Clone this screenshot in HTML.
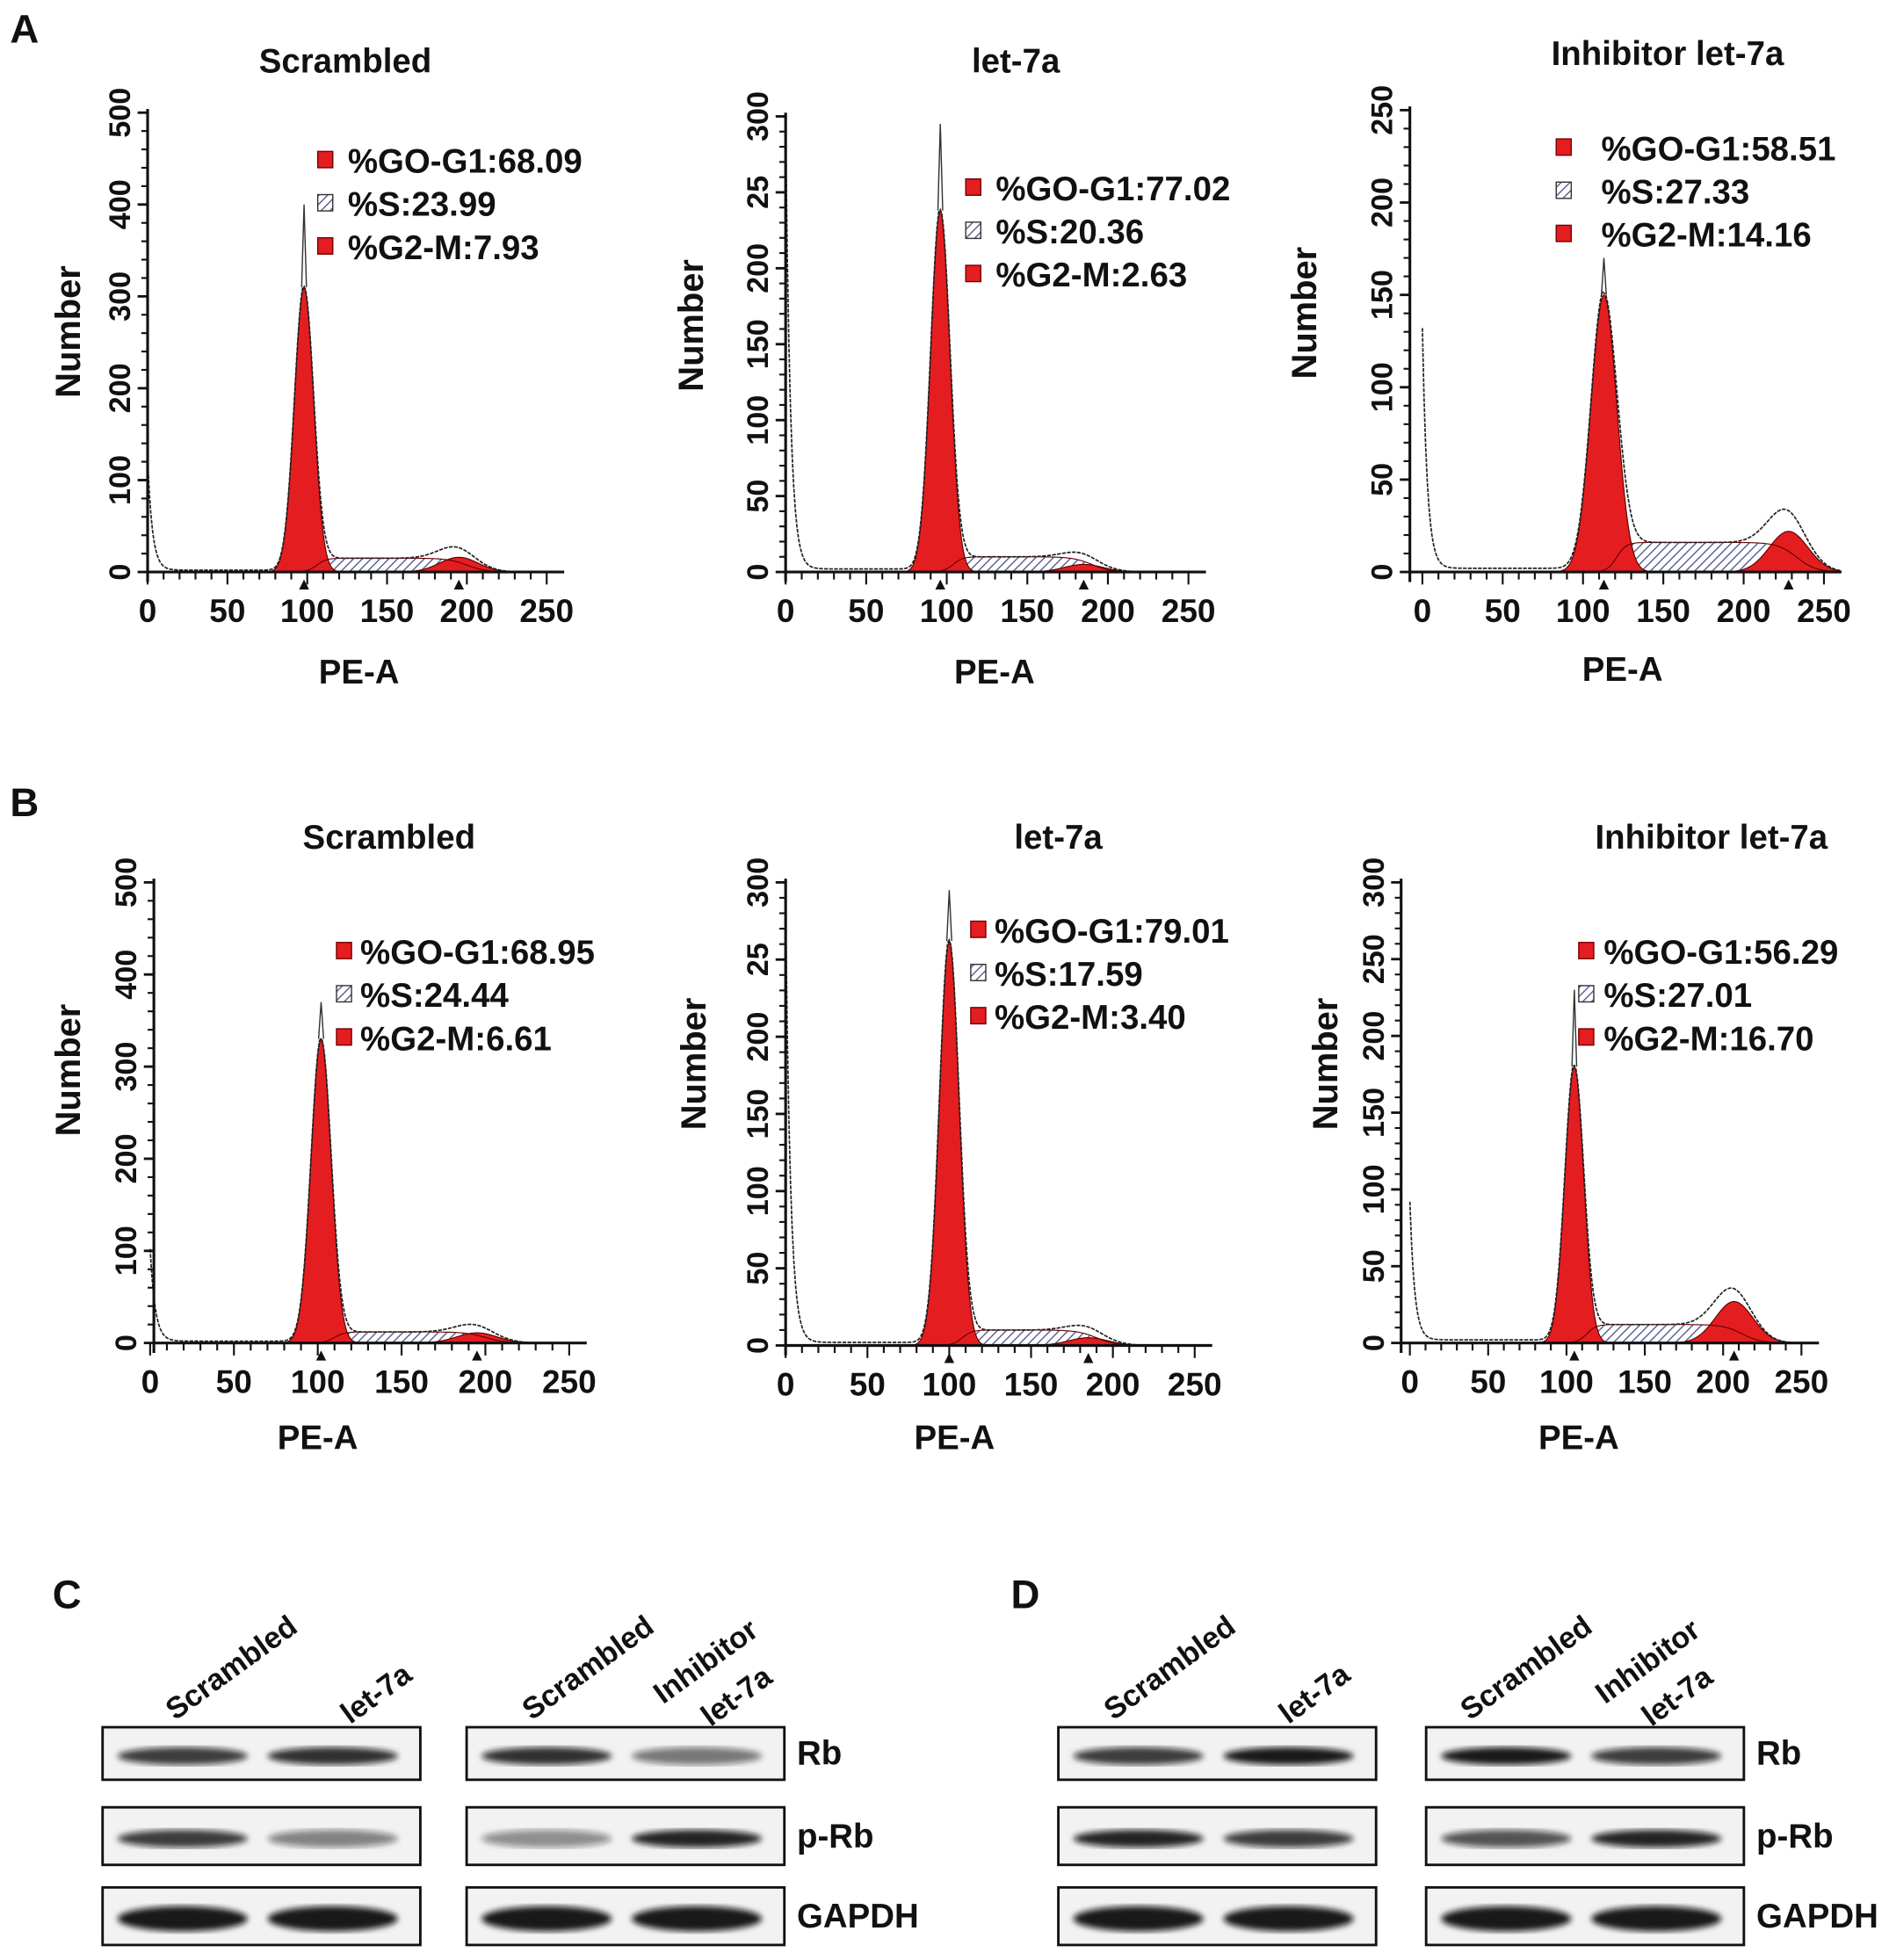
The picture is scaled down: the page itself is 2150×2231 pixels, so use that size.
<!DOCTYPE html>
<html><head><meta charset="utf-8"><style>
html,body{margin:0;padding:0;background:#fff;}
svg{display:block;}
text{font-family:"Liberation Sans",Arial,sans-serif;font-weight:bold;fill:#111;}
</style></head><body>
<svg id="fig" width="2150" height="2231" viewBox="0 0 1510 1566" preserveAspectRatio="none" xmlns="http://www.w3.org/2000/svg">
<defs>
<pattern id="hatch" width="5" height="5" patternUnits="userSpaceOnUse" patternTransform="rotate(45)">
<rect width="5" height="5" fill="#fff"/><line x1="0" y1="0" x2="0" y2="5" stroke="#5a5f90" stroke-width="2"/>
</pattern>
<filter id="blur"><feGaussianBlur stdDeviation="2.5"/></filter>
</defs>
<g id="charts"></g>
<g id="blots"></g>
</svg>
<script>
// ---- chart data ----
const panelTitles = ["Scrambled","let-7a","Inhibitor let-7a","Scrambled","let-7a","Inhibitor let-7a"];
const yMax = [500,300,250,500,300,300];
const yTickLabels = [
  ["0","100","200","300","400","500"],
  ["0","50","100","150","200","25","300"],
  ["0","50","100","150","200","250"],
  ["0","100","200","300","400","500"],
  ["0","50","100","150","200","25","300"],
  ["0","50","100","150","200","250","300"]];
const xTickLabels = ["0","50","100","150","200","250"];
const g1Label = ["68.09","77.02","58.51","68.95","79.01","56.29"];
const sLabel  = ["23.99","20.36","27.33","24.44","17.59","27.01"];
const g2Label = ["7.93","2.63","14.16","6.61","3.40","16.70"];
const g1Center = [98,96,113,102,100,105];
const g1Height = [310,238,150,330,262,180];
const g1Sd     = [6,6,8,6,6,6];
const spikeHeight = [400,295,170,370,295,230];
const sLevel   = [15,10,16,12,10,12];
const g2Center = [195,185,228,195,185,207];
const g2Height = [16,5,22,11,5,27];
const debrisHeight = [120,290,130,100,280,90];

// layout (viewBox units)
const layout = [
 {ax:118,x0:118,x250:437,base:457,top:90,tx:276,ty:58,lsq:260,ltx:278,ly:128,nx:52,ny:265,px:287,py:546,lab:"A",labx:8,laby:34},
 {ax:628,x0:628,x250:950,base:457,top:93,tx:812,ty:58,lsq:778,ltx:796,ly:150,nx:550,ny:260,px:795,py:546},
 {ax:1127,x0:1137,x250:1458,base:457,top:88,tx:1333,ty:52,lsq:1250,ltx:1280,ly:118,nx:1040,ny:250,px:1297,py:544},
 {ax:123,x0:120,x250:455,base:1073,top:705,tx:311,ty:678,lsq:275,ltx:288,ly:760,nx:52,ny:855,px:254,py:1158,lab:"B",labx:8,laby:652},
 {ax:628,x0:628,x250:955,base:1075,top:705,tx:846,ty:678,lsq:782,ltx:795,ly:743,nx:552,ny:850,px:763,py:1158},
 {ax:1120,x0:1127,x250:1440,base:1073,top:705,tx:1368,ty:678,lsq:1268,ltx:1282,ly:760,nx:1057,ny:850,px:1262,py:1158}];

const NS="http://www.w3.org/2000/svg";
function mk(tag,attrs,parent){const e=document.createElementNS(NS,tag);for(const k in attrs)e.setAttribute(k,attrs[k]);parent.appendChild(e);return e;}
const charts=document.getElementById('charts');

layout.forEach((L,i)=>{
  const g=mk('g',{},charts);
  
  
  const xs=v=>L.x0+(L.x250-L.x0)*v/250;
  const ys=v=>L.base-(L.base-L.top)*v/yMax[i];
  const xEnd=L.x250+14;
  if(L.lab){const t=mk('text',{x:L.labx,y:L.laby,'font-size':32},g);t.textContent=L.lab;
    }
  const tt=mk('text',{x:L.tx,y:L.ty,'font-size':27,'text-anchor':'middle'},g);tt.textContent=panelTitles[i];
  
  const c1=g1Center[i],c2=g2Center[i];
  const comp=v=>{
    const g1=g1Height[i]*Math.exp(-((v-c1)**2)/(2*g1Sd[i]**2));
    const g2=g2Height[i]*Math.exp(-((v-c2)**2)/(2*12*12));
    const rise=1/(1+Math.exp(-(v-(c1+8))/3));
    const fall=1/(1+Math.exp((v-(c2+5))/6));
    const s=sLevel[i]*rise*fall;
    const d=v<c1?debrisHeight[i]*Math.exp(-v/3)+2:0;
    return {g1,g2,s,d};
  };
  const pts=[];for(let v=0;v<=260;v+=1)pts.push(v);
  let sp='M'+xs(c1)+','+ys(0);
  pts.forEach(v=>{if(v>=c1&&v<=c2+20){const c=comp(v);sp+=' L'+xs(v)+','+ys(c.s);}});
  sp+=' L'+xs(c2+20)+','+ys(0)+'Z';
  const sPath=mk('path',{d:sp,fill:'url(#hatch)',stroke:'none'},g);
  
  ['g1','g2'].forEach(k=>{
    let p='M'+xs(0)+','+ys(0);
    pts.forEach(v=>{const c=comp(v);p+=' L'+xs(v)+','+ys(c[k]);});
    p+=' L'+xs(260)+','+ys(0)+'Z';
    const e=mk('path',{d:p,fill:'#e41e20',stroke:'#5a0000','stroke-width':0.8},g);
    
  });
  let sl='';pts.forEach(v=>{if(v>=c1-10){const c=comp(v);sl+=(sl?' L':'M')+xs(v)+','+ys(c.s);}});
  const sln=mk('path',{d:sl,fill:'none',stroke:'#600','stroke-width':0.8},g);
  
  let ep='';
  pts.forEach(v=>{const c=comp(v);const tot=c.g1+c.g2+c.s+c.d;ep+=(ep?' L':'M')+xs(v)+','+ys(Math.min(tot,yMax[i]));});
  const env=mk('path',{d:ep,fill:'none',stroke:'#222','stroke-width':1.2,'stroke-dasharray':'3,1'},g);
  
  const spk=mk('path',{d:'M'+xs(c1-1.5)+','+ys(g1Height[i])+' L'+xs(c1)+','+ys(spikeHeight[i])+' L'+xs(c1+1.5)+','+ys(g1Height[i]),fill:'none',stroke:'#333','stroke-width':1},g);
  
  const ya=mk('line',{x1:L.ax,y1:L.top-3,x2:L.ax,y2:L.base+8,stroke:'#111','stroke-width':2.2},g);
  
  const xa=mk('line',{x1:L.ax,y1:L.base,x2:xEnd,y2:L.base,stroke:'#111','stroke-width':2.2},g);
  
  const labs=yTickLabels[i];const step=yMax[i]/(labs.length-1);
  for(let k=0;k<labs.length;k++){
    const yv=ys(k*step);
    mk('line',{x1:L.ax-8,y1:yv,x2:L.ax,y2:yv,stroke:'#111','stroke-width':2},g);
    if(k<labs.length-1)for(let m=1;m<5;m++){const ym=ys(k*step+m*step/5);mk('line',{x1:L.ax-5,y1:ym,x2:L.ax,y2:ym,stroke:'#111','stroke-width':1.5},g);}
    const t=mk('text',{x:0,y:0,'font-size':24,'text-anchor':'middle',transform:'translate('+(L.ax-14)+','+yv+') rotate(-90)'},g);
    t.textContent=labs[k];
  }
  for(let k=0;k<=25;k++){const xv=xs(k*10);mk('line',{x1:xv,y1:L.base,x2:xv,y2:L.base+(k%5==0?10:6),stroke:'#111','stroke-width':1.5},g);}
  xTickLabels.forEach((lb,k)=>{const t=mk('text',{x:xs(k*50),y:L.base+40,'font-size':26,'text-anchor':'middle'},g);t.textContent=lb;
    });
  [c1,c2].forEach(v=>{mk('path',{d:'M'+(xs(v)-4)+','+(L.base+14)+' L'+xs(v)+','+(L.base+6)+' L'+(xs(v)+4)+','+(L.base+14)+'Z',fill:'#111'},g);});
  const nt=mk('text',{x:0,y:0,'font-size':28,'text-anchor':'middle',transform:'translate('+(L.nx+12)+','+L.ny+') rotate(-90)'},g);nt.textContent='Number';
  
  const pt=mk('text',{x:L.px,y:L.py,'font-size':27,'text-anchor':'middle'},g);pt.textContent='PE-A';
  
  const leg=[['%GO-G1:'+g1Label[i],'#e41e20'],['%S:'+sLabel[i],'url(#hatch)'],['%G2-M:'+g2Label[i],'#e41e20']];
  leg.forEach((e,k)=>{
    const y=L.ly+k*34.5;
    const r=mk('rect',{x:L.lsq-6,y:y-7,width:12,height:13,fill:e[1],stroke:k==1?'#333':'#700','stroke-width':1},g);
    
    const t=mk('text',{x:L.ltx,y:y+10,'font-size':27},g);t.textContent=e[0];
    
  });
});

// ---- western blots ----
const blots=document.getElementById('blots');
const blotGroups=[{x:82},{x:373},{x:846},{x:1140}];
const laneLabels=[
 [["Scrambled",140,1375],["let-7a",280,1378]],
 [["Scrambled",425,1375],["Inhibitor",530,1362],["let-7a",568,1380]],
 [["Scrambled",890,1375],["let-7a",1030,1378]],
 [["Scrambled",1175,1375],["Inhibitor",1283,1362],["let-7a",1320,1380]]];
const rowNames=["Rb","p-Rb","GAPDH"];
const rowY=[1380,1444,1508];
const bandIntensity=[[0.8,0.85,0.8,0.95],[0.85,0.55,0.95,0.8],[0.8,0.45,0.9,0.7],[0.5,0.9,0.8,0.9],[0.95,0.95,0.95,0.95],[0.95,0.95,0.95,0.95]];
[["C",42,1285],["D",808,1285]].forEach(l=>{const t=mk('text',{x:l[1],y:l[2],'font-size':32},blots);t.textContent=l[0];
  });
blotGroups.forEach((B,gi)=>{
  const w=254;
  laneLabels[gi].forEach(l=>{
    const t=mk('text',{x:0,y:0,'font-size':24,transform:'translate('+l[1]+','+l[2]+') rotate(-36)'},blots);
    t.textContent=l[0];
  });
  rowY.forEach((y,ri)=>{
    const h=ri==0?42:46;
    const box=mk('rect',{x:B.x,y:y,width:w,height:h,fill:'#f2f2f2',stroke:'#111','stroke-width':2},blots);
    
    for(let li=0;li<2;li++){
      const inten=bandIntensity[ri*2+li][gi];
      const band=mk('ellipse',{cx:B.x+64+li*120,cy:y+h/2+2,rx:52,ry:ri==2?10:7,fill:'#111','fill-opacity':inten,filter:'url(#blur)'},blots);
      
    }
    if(gi%2==1){const t=mk('text',{x:B.x+w+10,y:y+h/2+9,'font-size':27},blots);t.textContent=rowNames[ri];
      }
  });
});
</script>
</body></html>
